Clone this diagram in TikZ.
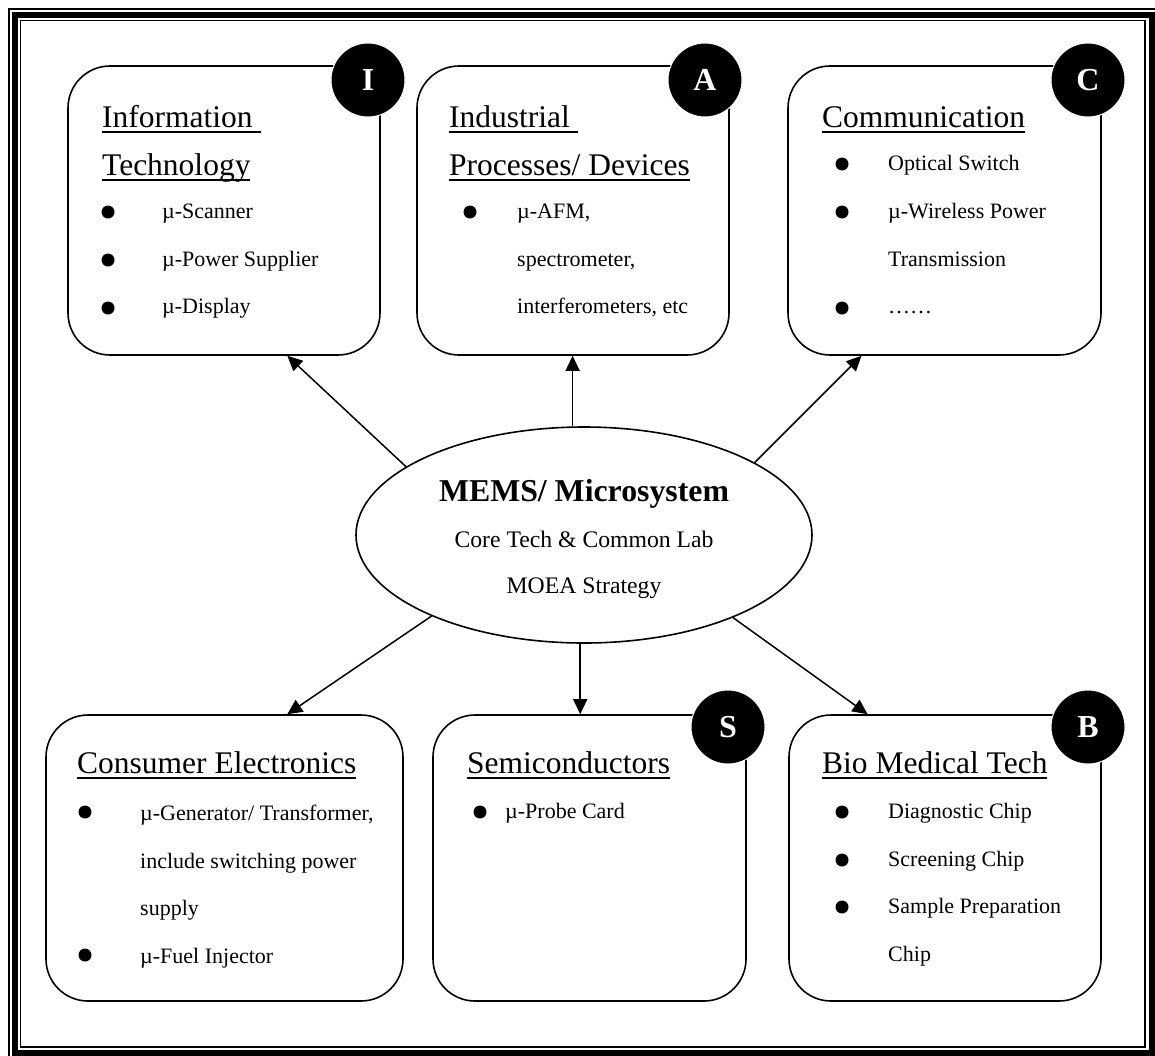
\documentclass[tikz,border=0pt]{standalone}
\usepackage{fontspec}
\setmainfont{Liberation Serif}
\usetikzlibrary{arrows.meta,shapes.geometric,calc}

% underline drawn as a rule just below the baseline
\newcommand\ulined[1]{\setbox0\hbox{#1}\rlap{\vrule width\wd0 height -4pt depth 6pt}\box0}

\tikzset{
  panel/.style={draw, line width=1.6pt, rounded corners=42pt, inner sep=0pt},
  badge/.style={circle, fill=black, draw=white, line width=1pt, minimum size=74pt, inner sep=0pt,
                text=white, font=\fontsize{32}{32}\selectfont\bfseries},
  head/.style={anchor=base west, inner sep=0pt, font=\fontsize{31.5}{32}\selectfont},
  item/.style={anchor=base west, inner sep=0pt, font=\fontsize{22}{24}\selectfont},
  core/.style={ellipse, draw, line width=1.6pt, fill=white, minimum width=456pt, minimum height=216pt, inner sep=0pt},
  link/.style={line width=1.5pt, -{Triangle[length=15pt,width=14pt]}},
}

\begin{document}
\begin{tikzpicture}[x=1pt,y=-1pt]
\useasboundingbox (0,0) rectangle (1155,1055);
\clip (0,0) rectangle (1155,1055);

% page frame: thin outer line, thick band, thin inner line
\draw[line width=1.4pt] (9,9) rectangle (1159,1059);
\draw[line width=6pt] (15,15) rectangle (1151.5,1052.5);
\draw[line width=1.2pt] (20.5,20.5) rectangle (1145,1047);

% application panels
\node[panel, minimum width=312pt, minimum height=289pt] (it) at (224,210.5) {};
\node[panel, minimum width=312pt, minimum height=289pt] (ia) at (573,210.5) {};
\node[panel, minimum width=313pt, minimum height=289pt] (cm) at (944.5,210.5) {};
\node[panel, minimum width=357pt, minimum height=286pt] (ce) at (224.5,858) {};
\node[panel, minimum width=313pt, minimum height=286pt] (se) at (589.5,858) {};
\node[panel, minimum width=312pt, minimum height=286pt] (bm) at (945,858) {};

% corner badges
\node[badge] (bI) at (368,80) {I};
\node[badge] (bA) at (705,80) {A};
\node[badge] (bC) at (1088,80) {C};
\node[badge] (bS) at (728,727) {S};
\node[badge] (bB) at (1088,727) {B};

% central ellipse
\node[core] (core) at (584,535) {};
\node[anchor=base, inner sep=0pt, font=\fontsize{31.8}{32}\selectfont\bfseries] (c1) at (584,501) {MEMS/ Microsystem};
\node[anchor=base, inner sep=0pt, font=\fontsize{23.7}{24}\selectfont] (c2) at (584,547) {Core Tech \& Common Lab};
\node[anchor=base, inner sep=0pt, font=\fontsize{23.7}{24}\selectfont] (c3) at (584,593) {MOEA Strategy};

% Information Technology
\node[head] (it1) at (102,127) {\ulined{Information\ }};
\node[head] (it2) at (102,175) {\ulined{Technology}};
\node[item] (it3) at (162,218) {µ-Scanner};
\node[item] (it4) at (162,266) {µ-Power Supplier};
\node[item] (it5) at (162,313) {µ-Display};
\fill (108,212) circle (6.5) (108,260) circle (6.5) (108,308) circle (6.5);

% Industrial Processes / Devices
\node[head] (ia1) at (449,127) {\ulined{Industrial\ }};
\node[head] (ia2) at (449,175) {\ulined{Processes/ Devices}};
\node[item] (ia3) at (517,218) {µ-AFM,};
\node[item] (ia4) at (517,266) {spectrometer,};
\node[item] (ia5) at (517,313) {interferometers, etc};
\fill (470,212) circle (6.5);

% Communication
\node[head] (cm1) at (822,127) {\ulined{Communication}};
\node[item] (cm2) at (888,170) {Optical Switch};
\node[item] (cm3) at (888,218) {µ-Wireless Power};
\node[item] (cm4) at (888,266) {Transmission};
\node[item] (cm5) at (888,313) {……};
\fill (842,164) circle (6.5) (842,212) circle (6.5) (842,308) circle (6.5);

% Consumer Electronics
\node[head] (ce1) at (77,773) {\ulined{Consumer Electronics}};
\node[item] (ce2) at (140,820) {µ-Generator/ Transformer,};
\node[item] (ce3) at (140,868) {include switching power};
\node[item] (ce4) at (140,915) {supply};
\node[item] (ce5) at (140,963) {µ-Fuel Injector};
\fill (85,812) circle (6.5) (85,955) circle (6.5);

% Semiconductors
\node[head] (se1) at (467,773) {\ulined{Semiconductors}};
\node[item] (se2) at (505,818) {µ-Probe Card};
\fill (480,812) circle (6.5);

% Bio Medical Tech
\node[head] (bm1) at (822,773) {\ulined{Bio Medical Tech}};
\node[item] (bm2) at (888,818) {Diagnostic Chip};
\node[item] (bm3) at (888,866) {Screening Chip};
\node[item] (bm4) at (888,913) {Sample Preparation};
\node[item] (bm5) at (888,961) {Chip};
\fill (842,812) circle (6.5) (842,860) circle (6.5) (842,907) circle (6.5);

% connectors from the core to each field
\draw[link] (core.159.6) -- ($(it.south west)!0.702!(it.south east)$);
\draw[link] (core.96) -- (core.96 |- ia.south);
\draw[link] (core.23.5) -- ($(cm.south west)!0.236!(cm.south east)$);
\draw[link] (core.208.3) -- ($(ce.north west)!0.675!(ce.north east)$);
\draw[link] (core.268) -- (core.268 |- se.north);
\draw[link] (core.331.7) -- ($(bm.north west)!0.253!(bm.north east)$);
\end{tikzpicture}
\end{document}
